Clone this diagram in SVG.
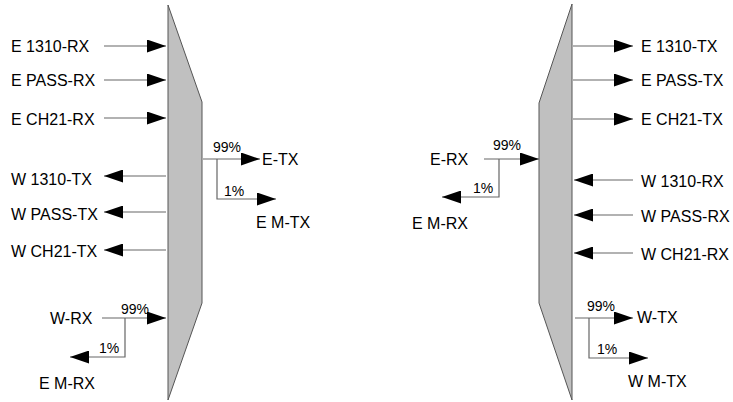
<svg xmlns="http://www.w3.org/2000/svg" width="733" height="402" viewBox="0 0 733 402">
<defs>
<marker id="ah" viewBox="0 0 19 13" refX="19" refY="6.5" markerWidth="19" markerHeight="13" markerUnits="userSpaceOnUse" orient="auto">
<path d="M0,0 L19,6.5 L0,13 Z" fill="#000"/>
</marker>
<style>
.blk{fill:#c0c0c0;stroke:#555;stroke-width:1}
.ln{fill:none;stroke:#666;stroke-width:1.2}
.ar{marker-end:url(#ah)}
text{font-family:"Liberation Sans",Arial,sans-serif;font-size:16px;fill:#000}
.pc{font-size:14px}
</style>
</defs>
<rect width="733" height="402" fill="#fff"/>
<g id="mux-left"><polygon class="blk" points="168,5 202,102 202,303 168,400"/></g>
<g id="mux-right"><polygon class="blk" points="572,4 572,400 539,303 539,103"/></g>
<g id="connectors">
<line class="ln ar" x1="104" y1="46" x2="166" y2="46"/>
<line class="ln ar" x1="104" y1="80" x2="166" y2="80"/>
<line class="ln ar" x1="104" y1="118" x2="166" y2="118"/>
<line class="ln ar" x1="166" y1="176" x2="104" y2="176"/>
<line class="ln ar" x1="166" y1="212" x2="104" y2="212"/>
<line class="ln ar" x1="166" y1="250" x2="104" y2="250"/>
<line class="ln ar" x1="203" y1="159" x2="260" y2="159"/>
<polyline class="ln ar" points="217,159 217,199 276,199"/>
<line class="ln ar" x1="102" y1="318" x2="166" y2="318"/>
<polyline class="ln ar" points="125,318 125,357 70,357"/>
<line class="ln ar" x1="573" y1="46" x2="633" y2="46"/>
<line class="ln ar" x1="573" y1="80" x2="633" y2="80"/>
<line class="ln ar" x1="573" y1="119" x2="633" y2="119"/>
<line class="ln ar" x1="633" y1="180" x2="574" y2="180"/>
<line class="ln ar" x1="633" y1="215" x2="574" y2="215"/>
<line class="ln ar" x1="633" y1="253" x2="574" y2="253"/>
<line class="ln ar" x1="484" y1="159" x2="539" y2="159"/>
<polyline class="ln ar" points="499,159 499,197 442,197"/>
<line class="ln ar" x1="575" y1="318" x2="633" y2="318"/>
<polyline class="ln ar" points="589,318 589,358 648,358"/>
</g>
<g id="labels-left">
<text x="11" y="52">E 1310-RX</text>
<text x="11" y="86">E PASS-RX</text>
<text x="11" y="125">E CH21-RX</text>
<text x="11" y="185">W 1310-TX</text>
<text x="11" y="220">W PASS-TX</text>
<text x="11" y="257">W CH21-TX</text>
<text class="pc" x="213" y="152">99%</text>
<text x="262" y="165">E-TX</text>
<text class="pc" x="224" y="196">1%</text>
<text x="256" y="228">E M-TX</text>
<text x="50" y="324">W-RX</text>
<text class="pc" x="121" y="314">99%</text>
<text class="pc" x="99" y="353">1%</text>
<text x="39" y="389">E M-RX</text>
</g>
<g id="labels-right">
<text x="641" y="52">E 1310-TX</text>
<text x="641" y="86">E PASS-TX</text>
<text x="641" y="125">E CH21-TX</text>
<text x="641" y="187">W 1310-RX</text>
<text x="641" y="222">W PASS-RX</text>
<text x="641" y="260">W CH21-RX</text>
<text x="430" y="165">E-RX</text>
<text class="pc" x="493" y="150">99%</text>
<text class="pc" x="473" y="193">1%</text>
<text x="412" y="229">E M-RX</text>
<text class="pc" x="587" y="311">99%</text>
<text x="637" y="323">W-TX</text>
<text class="pc" x="597" y="354">1%</text>
<text x="628" y="387">W M-TX</text>
</g>
</svg>
